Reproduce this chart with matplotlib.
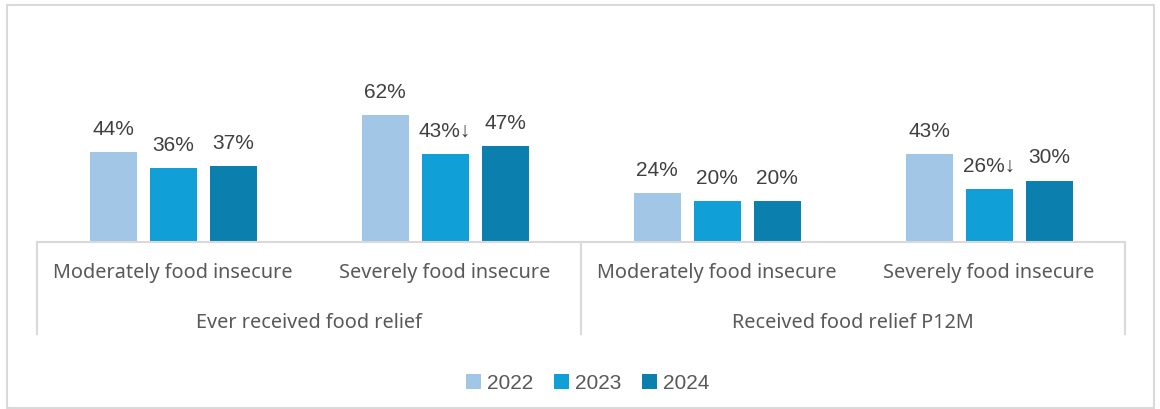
import numpy as np
import matplotlib.pyplot as plt
from matplotlib.patches import Rectangle

# datos
groups = ['Ever received food relief', 'Received food relief P12M']
cats = ['Moderately food insecure', 'Severely food insecure',
        'Moderately food insecure', 'Severely food insecure']
years = ['2022', '2023', '2024']
v2022 = [44, 62, 24, 43]
v2023 = [36, 43, 20, 26]
v2024 = [37, 47, 20, 30]
flag2023 = [False, True, False, True]   # caida significativa
colors = ['#A2C6E6', '#119FD7', '#0B80AF']

W, H = 1160, 410
fig = plt.figure(figsize=(W/100, H/100), dpi=100)
fig.patch.set_facecolor('white')

# borde exterior gris
fig.patches.append(Rectangle((7/W, 1-409/H), (1154-7)/W, (409-6)/H,
                             transform=fig.transFigure, fill=False,
                             edgecolor='#D9D9D9', lw=1.5))

ymax = 80.
left, right, base = 37, 1125, 243
top = base - ymax*2.05
ax = fig.add_axes([left/W, 1-base/H, (right-left)/W, (base-top)/H])
ax.set_xlim(-0.5, 3.5)
ax.set_ylim(0, ymax)
ax.axis('off')

x = np.arange(len(cats))
bw = 47/272.
off = 60/272.
numfont = ['Liberation Sans', 'DejaVu Sans']
for k, (vals, c) in enumerate(zip([v2022, v2023, v2024], colors)):
    xs = x + (k-1)*off
    ax.bar(xs, vals, width=bw, color=c, label=years[k])
    for i in range(len(vals)):
        s = '%d%%' % vals[i]
        if k == 1 and flag2023[i]:
            s = s + '\u2193'
        ax.text(xs[i], vals[i] + 11.5, s, ha='center', va='center',
                fontsize=15, color='#404040', family=numfont, clip_on=False)

# eje de categorias (dos niveles)
lc = '#D9D9D9'
ax2 = fig.add_axes([left/W, 1-345/H, (right-left)/W, (345-base)/H])
ax2.set_xlim(-0.5, 3.5)
ax2.set_ylim(345, base)
ax2.axis('off')
ax2.plot([-0.5, 3.5], [base, base], color=lc, lw=1.5, clip_on=False)
for xv in [-0.5, 1.5, 3.5]:
    ax2.plot([xv, xv], [base, 335], color=lc, lw=1.5, clip_on=False)
labfont = ['Noto Sans', 'DejaVu Sans']
for i, c in enumerate(cats):
    ax2.text(x[i], 273, c, ha='center', va='center', fontsize=14.3,
             color='#595959', family=labfont)
for g, gname in enumerate(groups):
    ax2.text(0.5 + 2*g, 323, gname, ha='center', va='center', fontsize=14.3,
             color='#595959', family=labfont)

leg = fig.legend(loc='center', bbox_to_anchor=(588/W, 1-384/H), ncol=3,
                 frameon=False, handlelength=0.7, handleheight=0.7,
                 handletextpad=0.3, columnspacing=1.0,
                 prop={'family': numfont, 'size': 15})
for t in leg.get_texts():
    t.set_color('#595959')

plt.savefig('out.png', dpi=100)
